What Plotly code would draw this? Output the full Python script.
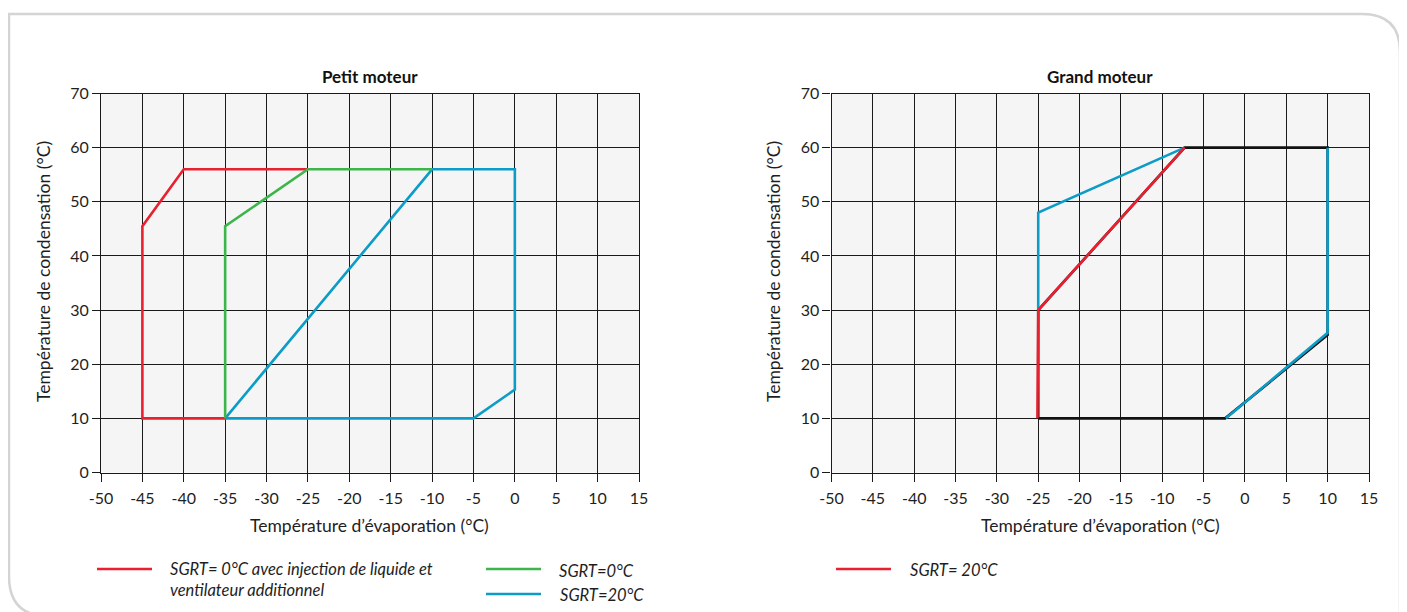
import plotly.graph_objects as go

# page body adds an 8px margin, so the figure is drawn 8px in from the window edge
OFF = 8
W, H = 1407 - OFF, 612 - OFF

# ---------------- data ----------------
x_ticks = [-50, -45, -40, -35, -30, -25, -20, -15, -10, -5, 0, 5, 10, 15]
x_tick_labels = ["-50", "-45", "-40", "-35", "-30", "-25", "-20", "-15", "-10", "-5", "0", "5", "10", "15"]
y_ticks = [0, 10, 20, 30, 40, 50, 60, 70]
y_tick_labels = ["0", "10", "20", "30", "40", "50", "60", "70"]

# Petit moteur
petit_red_x = [-35, -45, -45, -40, -25]
petit_red_y = [10, 10, 45.5, 56, 56]
petit_green_x = [-35, -35, -25, -10]
petit_green_y = [10, 45.5, 56, 56]
petit_blue_x = [-35, -10, 0, 0, -5, -35]
petit_blue_y = [10, 56, 56, 15.3, 10, 10]

# Grand moteur
grand_black_x = [-25, -25, -7.3, 10, 10, -2.4, -25]
grand_black_y = [10, 30, 60, 60, 25.4, 10, 10]
grand_red_x = [-25.1, -25, -7.3]
grand_red_y = [10, 30, 60]
grand_blue_x = [-25, -25, -7.3, None, 10, 10, -2.3]
grand_blue_y = [30, 48, 60, None, 60, 25.8, 10]

titles = ["Petit moteur", "Grand moteur"]
x_title = "Température d’évaporation (°C)"
y_title = "Température de condensation (°C)"
legend_left = ["SGRT= 0°C avec injection de liquide et", "ventilateur additionnel", "SGRT=0°C", "SGRT=20°C"]
legend_right = ["SGRT= 20°C"]

RED = "#e8202f"
GREEN = "#3cb54a"
BLUE = "#0b9cc8"
BLACK = "#111111"
FONT = "Lato"

def px(x):
    return (x - OFF) / W

def py(y):
    return 1 - (y - OFF) / H

fig = go.Figure()

LW = 2.6
def add(x, y, color, axis, width=LW):
    xa, ya = ("x", "y") if axis == 1 else ("x2", "y2")
    fig.add_trace(go.Scatter(x=x, y=y, mode="lines", xaxis=xa, yaxis=ya,
                             line=dict(color=color, width=width),
                             showlegend=False, hoverinfo="skip"))

add(petit_red_x, petit_red_y, RED, 1)
add(petit_blue_x, petit_blue_y, BLUE, 1)
add(petit_green_x, petit_green_y, GREEN, 1)

add(grand_black_x, grand_black_y, BLACK, 2)
add(grand_blue_x, grand_blue_y, BLUE, 2)
add(grand_red_x, grand_red_y, RED, 2)

# plot area pixel geometry (reference window pixels)
left_dom = [px(101), px(639)]
right_dom = [px(831.5), px(1369)]
ydom = [py(472.5), py(93.5)]

axis_common = dict(
    showgrid=True, gridcolor="#1a1a1a", gridwidth=1.2,
    showline=True, linecolor="#1a1a1a", linewidth=1.2, mirror=True,
    ticks="outside", ticklen=8, tickwidth=1.2, tickcolor="#1a1a1a",
    zeroline=False, automargin=False,
    tickfont=dict(family=FONT, size=16, color="#1e1e1e"),
)
xextra = dict(ticklabelstandoff=3)

fig.update_layout(
    width=W, height=H,
    margin=dict(l=0, r=0, t=0, b=0, autoexpand=False),
    paper_bgcolor="white", plot_bgcolor="#f5f5f5",
    font=dict(family=FONT, color="#1e1e1e"),
    showlegend=False,
    xaxis=dict(domain=left_dom, range=[-50, 15], tickvals=x_ticks, ticktext=x_tick_labels, anchor="y", **axis_common, **xextra),
    yaxis=dict(domain=ydom, range=[0, 70], tickvals=y_ticks, ticktext=y_tick_labels, anchor="x", **axis_common),
    xaxis2=dict(domain=right_dom, range=[-50, 15], tickvals=x_ticks, ticktext=x_tick_labels, anchor="y2", **axis_common, **xextra),
    yaxis2=dict(domain=ydom, range=[0, 70], tickvals=y_ticks, ticktext=y_tick_labels, anchor="x2", **axis_common),
)

# card frame
path = (f"M {px(48)} {py(616)} Q {px(9)} {py(616)} {px(9)} {py(576)} "
        f"L {px(9)} {py(14)} L {px(1362)} {py(14)} Q {px(1400)} {py(14)} {px(1400)} {py(52)} "
        f"L {px(1400)} {py(616)} Z")
fig.add_shape(type="path", path=path, xref="paper", yref="paper",
              line=dict(color="#d4d4d4", width=2.5), layer="below")

anns = []
for cx, t in [((101 + 639) / 2, titles[0]), ((831.5 + 1369) / 2, titles[1])]:
    anns.append(dict(x=px(cx), y=py(76), text=f"<b>{t}</b>", showarrow=False,
                     xref="paper", yref="paper", xanchor="center", yanchor="middle",
                     font=dict(family=FONT, size=17, color="#111")))
    anns.append(dict(x=px(cx), y=py(525), text=x_title, showarrow=False,
                     xref="paper", yref="paper", xanchor="center", yanchor="middle",
                     font=dict(family=FONT, size=17.5, color="#1e1e1e")))
for cx in [43, 773]:
    anns.append(dict(x=px(cx), y=py(272), text=y_title, showarrow=False, textangle=-90,
                     xref="paper", yref="paper", xanchor="center", yanchor="middle",
                     font=dict(family=FONT, size=17.5, color="#1e1e1e")))

# legend lines (key samples)
leg_lines = [
    (97, 152, 569, RED),
    (486, 541, 569, GREEN),
    (486, 541, 594, BLUE),
    (836, 891, 569, RED),
]
for x0, x1, yl, col in leg_lines:
    fig.add_shape(type="line", xref="paper", yref="paper", x0=px(x0), x1=px(x1),
                  y0=py(yl), y1=py(yl), line=dict(color=col, width=2.5))

# legend texts
leg_texts = [
    (168, 569, legend_left[0]),
    (168, 590, legend_left[1]),
    (557, 571, legend_left[2]),
    (558, 595, legend_left[3]),
    (908, 570, legend_right[0]),
]
for tx, ty, txt in leg_texts:
    anns.append(dict(x=px(tx), y=py(ty), text=f"<i>{txt}</i>", showarrow=False,
                     xref="paper", yref="paper", xanchor="left", yanchor="middle", align="left",
                     font=dict(family=FONT, size=16.5, color="#1e1e1e")))

fig.update_layout(annotations=anns)
fig.write_html("out.html")
